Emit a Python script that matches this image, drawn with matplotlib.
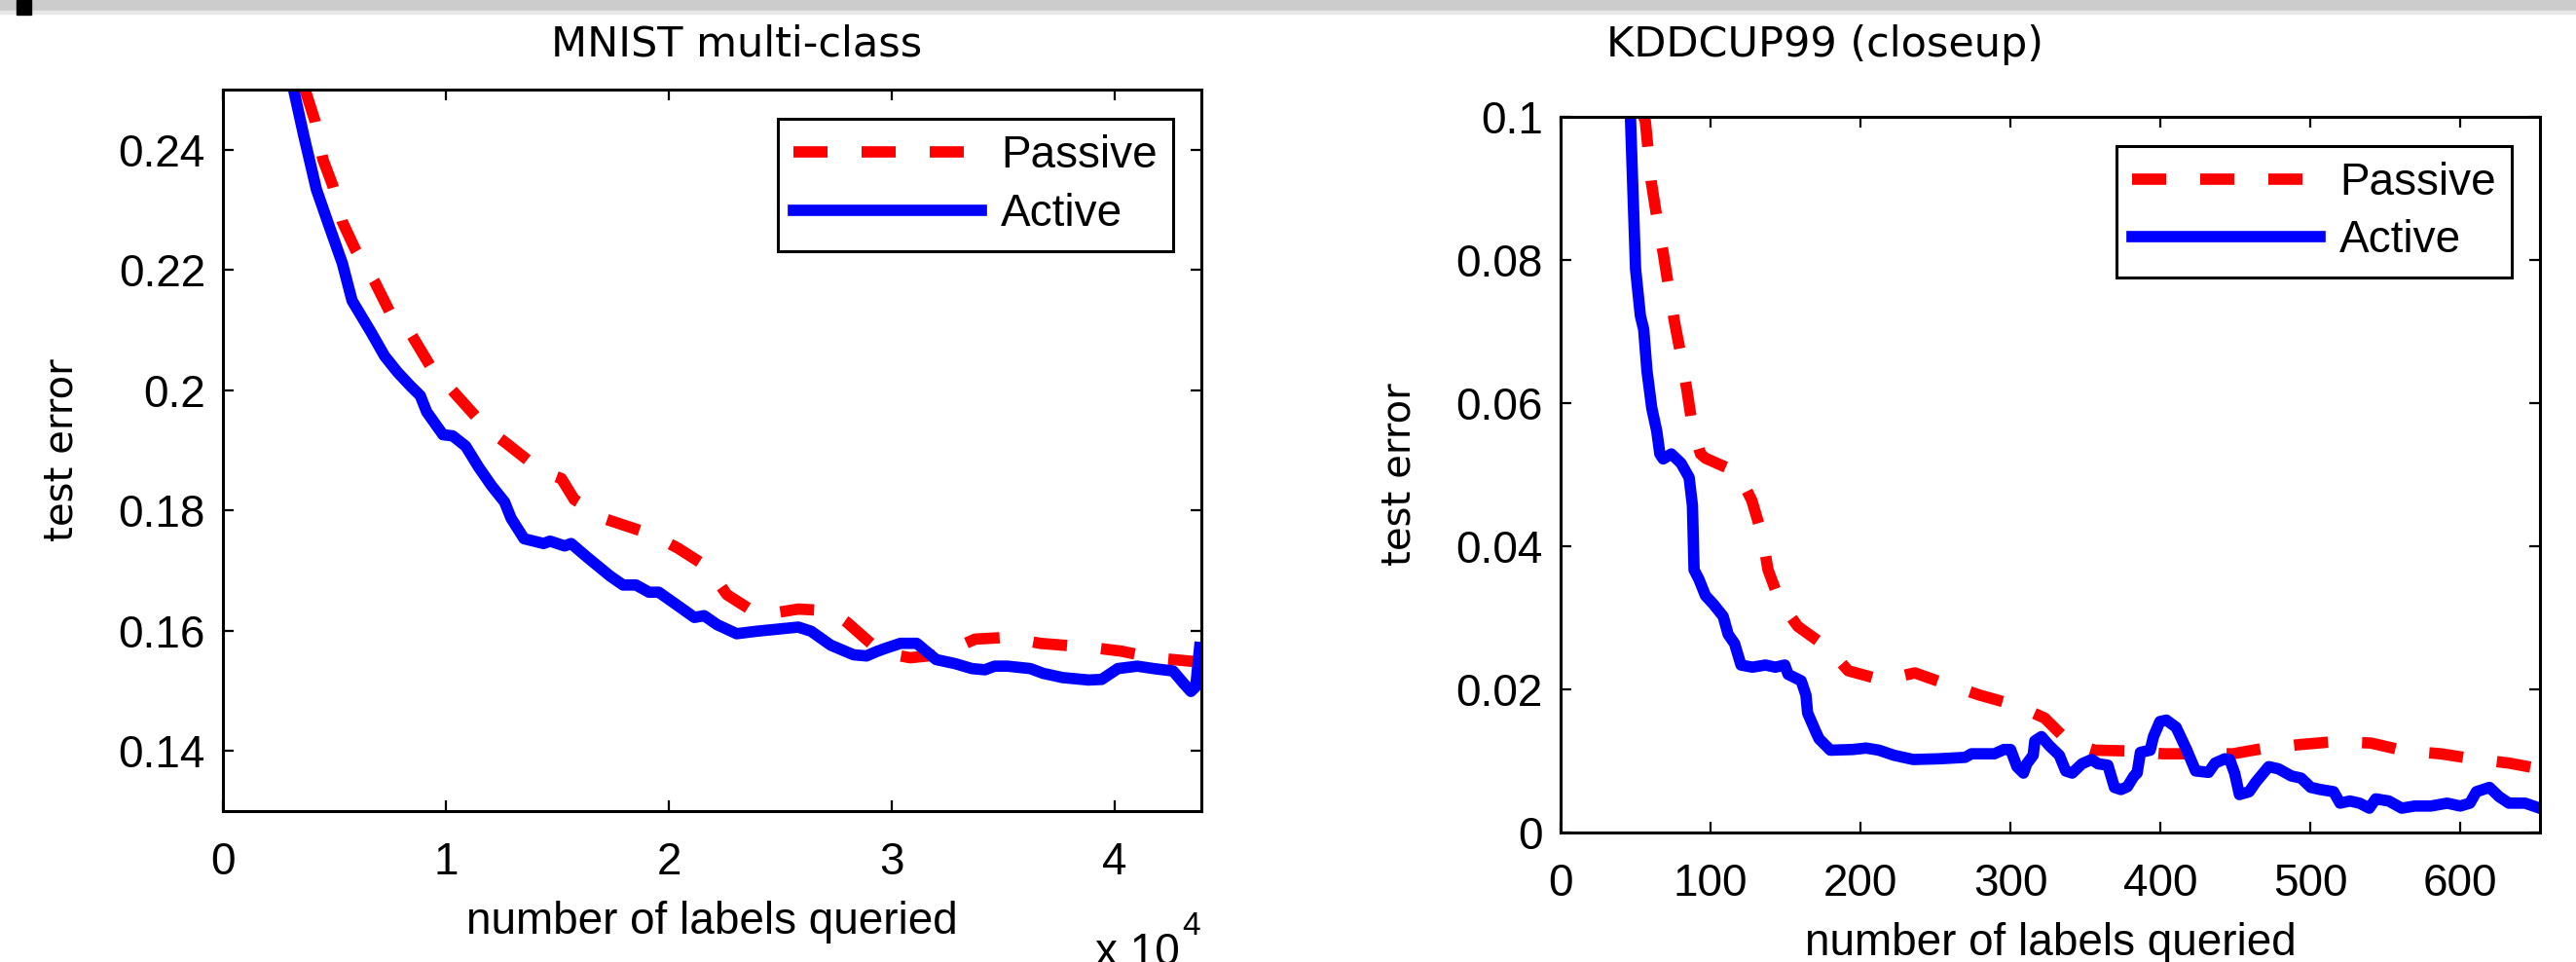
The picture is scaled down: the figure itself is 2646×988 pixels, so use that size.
import matplotlib
matplotlib.use("Agg")
import matplotlib.pyplot as plt
from matplotlib.patches import Rectangle

plt.rcParams["font.family"] = ["Liberation Sans", "DejaVu Sans"]

# ---- MNIST multi-class (x = number of labels queried) ----
mnist_active_x = [3170, 3610, 4192, 4774, 5357, 5793, 6230, 6667, 7249, 7831,
                  8413, 8850, 9140, 9869, 10306, 10888, 11470, 12052, 12634,
                  12926, 13508, 14380, 14672, 15328, 15619, 16346, 17365,
                  17948, 18529, 19113, 19550, 20277, 21150, 21585, 22170,
                  23044, 23917, 25808, 26389, 27263, 28284, 28865, 29301,
                  29665, 30393, 31121, 31994, 32868, 33594, 34179, 34616,
                  35197, 36214, 36799, 37672, 38834, 39419, 40144, 41017,
                  41747, 42620, 43057, 43420, 43638, 43812]
mnist_active_y = [0.2500, 0.2426, 0.2334, 0.2272, 0.2211, 0.2149, 0.2122,
                  0.2095, 0.2057, 0.2030, 0.2007, 0.1991, 0.1964, 0.1926,
                  0.1924, 0.1907, 0.1872, 0.1841, 0.1814, 0.1787, 0.1753,
                  0.1745, 0.1749, 0.1741, 0.1745, 0.1722, 0.1691, 0.1676,
                  0.1676, 0.1664, 0.1664, 0.1645, 0.1622, 0.1625, 0.1610,
                  0.1595, 0.1599, 0.1606, 0.1599, 0.1576, 0.1560, 0.1558,
                  0.1565, 0.1570, 0.1579, 0.1579, 0.1552, 0.1545, 0.1537,
                  0.1535, 0.1541, 0.1541, 0.1537, 0.1529, 0.1522, 0.1518,
                  0.1519, 0.1537, 0.1541, 0.1537, 0.1533, 0.1514, 0.1499,
                  0.1507, 0.1572]

mnist_passive_x = [3680, 4119, 4483, 4920, 5357, 5939, 6376, 6812, 7541, 8413,
                   9287, 10014, 11323, 12197, 12634, 13799, 14672, 15183,
                   15764, 17220, 17948, 19258, 20424, 21734, 22607, 23917,
                   24642, 25808, 27263, 27991, 28572, 29520, 30830, 32140,
                   33742, 35197, 36652, 38983, 40294, 41747, 43493, 43890]
mnist_passive_y = [0.2500, 0.2449, 0.2384, 0.2341, 0.2280, 0.2234, 0.2207,
                   0.2180, 0.2126, 0.2095, 0.2041, 0.2011, 0.1957, 0.1926,
                   0.1914, 0.1880, 0.1860, 0.1853, 0.1818, 0.1785, 0.1776,
                   0.1760, 0.1737, 0.1706, 0.1660, 0.1629, 0.1629, 0.1636,
                   0.1633, 0.1614, 0.1595, 0.1564, 0.1555, 0.1560, 0.1586,
                   0.1589, 0.1579, 0.1572, 0.1566, 0.1555, 0.1549, 0.1548]

# ---- KDDCUP99 closeup ----
kdd_active_x = [46.5, 47.8, 50.0, 53.2, 55.4, 57.6, 60.8, 64.1, 66.2, 68.4,
                73.8, 80.3, 85.7, 87.9, 89.0, 92.2, 96.6, 101.9, 108.4, 111.7,
                116.0, 120.3, 127.9, 136.6, 143.1, 149.5, 151.7, 160.4, 163.6,
                164.7, 170.1, 172.3, 179.9, 195.0, 203.7, 212.3, 222.1, 235.1,
                252.4, 269.7, 274.0, 289.2, 295.7, 300.0, 304.3, 308.6, 310.8,
                315.1, 316.2, 320.6, 326.0, 332.5, 336.8, 341.1, 347.6, 354.1,
                358.4, 364.9, 369.3, 373.6, 377.9, 382.3, 384.4, 386.6, 393.1,
                395.3, 399.6, 403.9, 410.4, 416.9, 423.4, 432.0, 436.4, 442.9,
                446.1, 449.4, 452.6, 459.1, 463.4, 472.1, 478.6, 487.2, 493.7,
                500.2, 506.7, 515.4, 519.7, 526.2, 532.7, 539.2, 543.5, 552.2,
                560.8, 569.5, 580.3, 591.1, 599.8, 606.3, 610.6, 619.3, 625.8,
                632.3, 643.1, 652.8]
kdd_active_y = [0.1005, 0.0923, 0.0787, 0.0722, 0.0703, 0.0645, 0.0593,
                0.0561, 0.0529, 0.0522, 0.0529, 0.0516, 0.0496, 0.0457,
                0.0367, 0.0354, 0.0331, 0.0319, 0.0302, 0.0277, 0.0264,
                0.0234, 0.0231, 0.0234, 0.0231, 0.0234, 0.0221, 0.0212,
                0.0192, 0.0167, 0.0141, 0.0131, 0.0115, 0.0116, 0.0118,
                0.0115, 0.0108, 0.0102, 0.0103, 0.0105, 0.0110, 0.0110,
                0.0116, 0.0116, 0.0092, 0.0083, 0.0096, 0.0108, 0.0128,
                0.0134, 0.0121, 0.0108, 0.0086, 0.0083, 0.0096, 0.0102,
                0.0096, 0.0094, 0.0063, 0.0060, 0.0064, 0.0079, 0.0083,
                0.0112, 0.0115, 0.0134, 0.0155, 0.0157, 0.0147, 0.0118,
                0.0086, 0.0084, 0.0097, 0.0103, 0.0102, 0.0083, 0.0053,
                0.0057, 0.0070, 0.0092, 0.0089, 0.0079, 0.0076, 0.0063,
                0.0060, 0.0057, 0.0041, 0.0044, 0.0041, 0.0034, 0.0047,
                0.0044, 0.0034, 0.0037, 0.0037, 0.0041, 0.0037, 0.0041,
                0.0057, 0.0063, 0.0050, 0.0041, 0.0041, 0.0034]

kdd_passive_x = [54.5, 56.5, 60.4, 64.5, 68.4, 72.1, 76.0, 80.5, 84.4, 87.9,
                 93.3, 96.6, 118.2, 127.5, 134.4, 138.3, 146.3, 158.2, 178.8,
                 191.8, 214.5, 236.2, 257.8, 279.4, 303.2, 322.7, 339.0,
                 356.3, 377.9, 401.7, 424.5, 448.3, 469.9, 493.7, 516.4,
                 540.3, 563.0, 586.8, 608.4, 632.3, 652.8]
kdd_passive_y = [0.1005, 0.0994, 0.0910, 0.0855, 0.0810, 0.0761, 0.0713,
                 0.0664, 0.0616, 0.0567, 0.0529, 0.0523, 0.0503, 0.0464,
                 0.0415, 0.0367, 0.0322, 0.0288, 0.0257, 0.0226, 0.0213,
                 0.0223, 0.0207, 0.0192, 0.0178, 0.0160, 0.0126, 0.0115,
                 0.0114, 0.0110, 0.0110, 0.0110, 0.0118, 0.0123, 0.0127,
                 0.0125, 0.0114, 0.0110, 0.0103, 0.0097, 0.0089]

mnist_xticks = [0, 10000, 20000, 30000, 40000]
mnist_xticklabels = ["0", "1", "2", "3", "4"]
mnist_yticks = [0.14, 0.16, 0.18, 0.20, 0.22, 0.24]
mnist_yticklabels = ["0.14", "0.16", "0.18", "0.2", "0.22", "0.24"]
kdd_xticks = [0, 100, 200, 300, 400, 500, 600]
kdd_yticks = [0, 0.02, 0.04, 0.06, 0.08, 0.1]
kdd_yticklabels = ["0", "0.02", "0.04", "0.06", "0.08", "0.1"]

W, H = 2646, 988
RED, BLUE = "#ff0000", "#0000ff"
LW = 8.4
FS = 33


def style_axes(ax):
    for sp in ax.spines.values():
        sp.set_linewidth(2.2)
    ax.tick_params(direction="in", length=8, width=1.6, top=True, right=True,
                   labelsize=FS)
    ax.tick_params(axis="x", pad=22)
    ax.tick_params(axis="y", pad=13)


def draw(ax, xp, yp, xa, ya):
    ax.plot(xp, yp, color=RED, lw=LW, ls=(0, (3, 3)), label="Passive")
    ax.plot(xa, ya, color=BLUE, lw=LW, solid_joinstyle="round",
            label="Active")
    leg = ax.legend(loc="upper right", bbox_to_anchor=(0.971, 0.959),
                    borderaxespad=0, fancybox=False, edgecolor="black",
                    framealpha=1, fontsize=FS, handlelength=4.2,
                    handletextpad=0.45, borderpad=0.35, labelspacing=0.33)
    leg.get_frame().set_linewidth(2.2)


fig = plt.figure(figsize=(W / 100, H / 100), dpi=100)

# top window strip of the screenshot
fig.patches.append(Rectangle((0, 1 - 11 / H), 1, 11 / H, transform=fig.transFigure,
                             color="#cccccc", zorder=0))
fig.patches.append(Rectangle((0, 1 - 14 / H), 1, 3 / H, transform=fig.transFigure,
                             color="#e8e8e8", zorder=0))
fig.patches.append(Rectangle((17 / W, 1 - 15 / H), 15 / W, 15 / H,
                             transform=fig.transFigure, color="black", zorder=1))

ax1 = fig.add_axes([229 / W, (H - 833) / H, 1005 / W, 741 / H])
draw(ax1, mnist_passive_x, mnist_passive_y, mnist_active_x, mnist_active_y)
ax1.set_xlim(0, 43890)
ax1.set_ylim(0.13, 0.25)
ax1.set_xticks(mnist_xticks)
ax1.set_xticklabels(mnist_xticklabels)
ax1.set_yticks(mnist_yticks)
ax1.set_yticklabels(mnist_yticklabels)
style_axes(ax1)
ax1.set_xlabel("number of labels queried", fontsize=FS)
ax1.xaxis.set_label_coords(0.5, -0.124)
ax1.set_ylabel("test error", fontsize=29, family="DejaVu Sans")
ax1.yaxis.set_label_coords(-0.145, 0.5)

ax2 = fig.add_axes([1603 / W, (H - 855) / H, 1006 / W, 735 / H])
draw(ax2, kdd_passive_x, kdd_passive_y, kdd_active_x, kdd_active_y)
ax2.set_xlim(0, 653)
ax2.set_ylim(0, 0.1)
ax2.set_xticks(kdd_xticks)
ax2.set_yticks(kdd_yticks)
ax2.set_yticklabels(kdd_yticklabels)
style_axes(ax2)
ax2.set_xlabel("number of labels queried", fontsize=FS)
ax2.xaxis.set_label_coords(0.5, -0.125)
ax2.set_ylabel("test error", fontsize=29, family="DejaVu Sans")
ax2.yaxis.set_label_coords(-0.145, 0.5)

fig.text(757 / W, 1 - 58 / H, "MNIST multi-class", ha="center", va="baseline",
         fontsize=31, family="DejaVu Sans")
fig.text(1874 / W, 1 - 58 / H, "KDDCUP99 (closeup)", ha="center", va="baseline",
         fontsize=31, family="DejaVu Sans")

# x 10^4 multiplier under the left axes (partly cut by the image edge)
fig.text(1125 / W, (H - 991) / H, "x 10", ha="left", va="baseline", fontsize=FS)
fig.text(1214 / W, (H - 960) / H, "4", ha="left", va="baseline", fontsize=24)

fig.savefig("out.png", dpi=100)
